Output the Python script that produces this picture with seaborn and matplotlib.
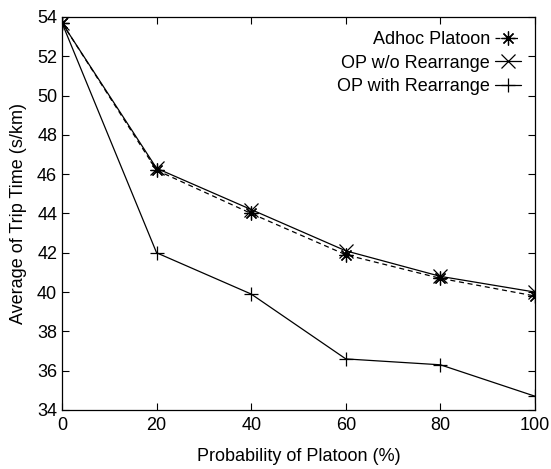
import matplotlib
matplotlib.use("Agg")
import matplotlib.pyplot as plt
import seaborn as sns
import pandas as pd

prob = [0, 20, 40, 60, 80, 100]
adhoc = [53.7, 46.2, 44.0, 41.9, 40.7, 39.8]
op_wo = [53.7, 46.3, 44.2, 42.1, 40.8, 40.0]
op_with = [53.7, 42.0, 39.9, 36.6, 36.3, 34.7]
labels = ["Adhoc Platoon", "OP w/o Rearrange", "OP with Rearrange"]

sns.set_style("ticks")
plt.rcParams['font.family'] = ['Liberation Sans', 'DejaVu Sans']
plt.rcParams['text.color'] = 'black'
plt.rcParams['axes.labelcolor'] = 'black'
plt.rcParams['xtick.color'] = 'black'
plt.rcParams['ytick.color'] = 'black'

fig = plt.figure(figsize=(5.51, 4.69), dpi=100)
ax = fig.add_axes([0.1125, 0.1258, 0.8585, 0.8380])

styles = [
    (adhoc, labels[0], (8, 2, 0), (0, (4, 3))),
    (op_wo, labels[1], 'x', '-'),
    (op_with, labels[2], '+', '-'),
]
for vals, lab, mk, ls in styles:
    df = pd.DataFrame({"x": prob, "y": vals})
    sns.lineplot(data=df, x="x", y="y", ax=ax, color="black", linewidth=0.9,
                 linestyle=ls, marker=mk, markersize=10, markeredgewidth=0.9,
                 markeredgecolor="black", label=lab)

ax.set_xlim(0, 100)
ax.set_ylim(34, 54)
ax.set_xticks(prob)
ax.set_yticks(range(34, 55, 2))
ax.tick_params(direction="in", top=True, right=True, labelsize=13, length=5,
               width=0.8, colors="black", labelcolor="black")
ax.tick_params(axis="x", pad=5)
for s in ax.spines.values():
    s.set_linewidth(0.9)
    s.set_color("black")
ax.set_xlabel("Probability of Platoon (%)", fontsize=13, labelpad=10, color="black")
ax.set_ylabel("Average of Trip Time (s/km)", fontsize=13, labelpad=7, color="black")

leg = ax.legend(loc="upper right", frameon=False, markerfirst=False, fontsize=13,
                handlelength=1.4, handletextpad=0.3, labelspacing=0.35,
                borderaxespad=0.4)
for t in leg.get_texts():
    t.set_color("black")

fig.savefig("out.png", dpi=100)
